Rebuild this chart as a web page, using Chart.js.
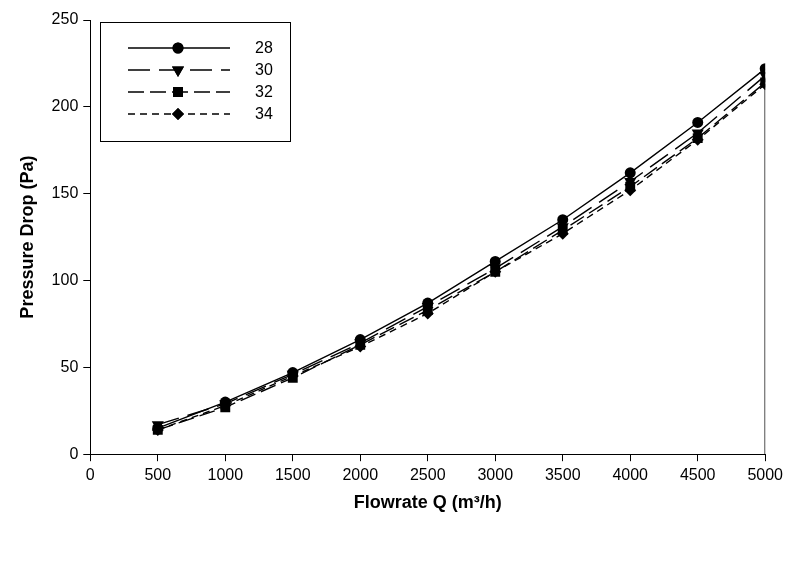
<!DOCTYPE html>
<html lang="en">
<head>
    <meta charset="UTF-8">
    <title>Pressure Drop vs Flowrate</title>
    <script src="https://cdn.jsdelivr.net/npm/chart.js"></script>
    <style>
        body {
            margin: 0;
            padding: 0;
            background-color: white;
        }
        #wrap {
            width: 788px;
            height: 563px;
        }
    </style>
</head>
<body>
    <div id="wrap">
        <canvas id="pdChart" width="788" height="563"></canvas>
    </div>

    <script>
        // data
        const flowrates = [500, 1000, 1500, 2000, 2500, 3000, 3500, 4000, 4500, 5000];
        const seriesNames = ['28', '30', '32', '34'];
        const pd28 = [15, 30, 47, 66, 87, 111, 135, 162, 191, 222];
        const pd30 = [17, 29, 46, 64, 85, 107, 131, 157, 185, 218];
        const pd32 = [14, 27, 44, 63, 83, 105, 129, 154, 182, 214];
        const pd34 = [14, 28, 45, 62, 81, 105, 127, 152, 181, 213];
        // drop line at the right end, from the lowest last point to the axis
        const dropX = [5000, 5000];
        const dropY = [213, 0];

        const xTicks = [0, 500, 1000, 1500, 2000, 2500, 3000, 3500, 4000, 4500, 5000];
        const yTicks = [0, 50, 100, 150, 200, 250];

        const FONT = 'Arial, "Liberation Sans", sans-serif';

        function toPoints(xs, ys) {
            return xs.map((x, i) => ({ x: x, y: ys[i] }));
        }

        const styles = [
            { dash: [], shape: 'circle', r: 5.5, rot: 0 },
            { dash: [22, 9], shape: 'triangle', r: 7, rot: 180 },
            { dash: [16, 6], shape: 'rect', r: 7, rot: 0 },
            { dash: [7, 5], shape: 'rectRot', r: 6, rot: 0 }
        ];
        const allSeries = [pd28, pd30, pd32, pd34];

        const datasets = allSeries.map((vals, i) => ({
            label: seriesNames[i],
            data: toPoints(flowrates, vals),
            borderColor: '#000',
            backgroundColor: '#000',
            borderWidth: 1.4,
            borderDash: styles[i].dash,
            pointStyle: styles[i].shape,
            pointRadius: styles[i].r,
            pointRotation: styles[i].rot,
            pointBorderWidth: 0,
            tension: 0
        }));
        datasets.push({
            label: 'drop',
            data: toPoints(dropX, dropY),
            borderColor: '#000',
            borderWidth: 1.4,
            pointRadius: 0
        });

        // legend box like the original: line + marker + label
        const boxLegend = {
            id: 'boxLegend',
            afterDatasetsDraw(chart) {
                const ctx = chart.ctx;
                ctx.save();
                ctx.strokeStyle = '#000';
                ctx.lineWidth = 1;
                ctx.strokeRect(100.5, 22.5, 190, 119);
                ctx.lineWidth = 1.4;
                for (let i = 0; i < seriesNames.length; i++) {
                    const y = 48 + i * 22;
                    ctx.beginPath();
                    ctx.setLineDash(styles[i].dash);
                    ctx.moveTo(128, y);
                    ctx.lineTo(230, y);
                    ctx.stroke();
                    ctx.setLineDash([]);
                    ctx.fillStyle = '#000';
                    Chart.helpers.drawPoint(ctx, {
                        pointStyle: styles[i].shape,
                        radius: styles[i].r,
                        rotation: styles[i].rot,
                        borderWidth: 0
                    }, 178, y);
                    ctx.fill();
                    ctx.font = '16px ' + FONT;
                    ctx.textBaseline = 'middle';
                    ctx.textAlign = 'left';
                    ctx.fillText(seriesNames[i], 255, y + 1);
                }
                ctx.restore();
            }
        };

        const ctx = document.getElementById('pdChart').getContext('2d');
        new Chart(ctx, {
            type: 'line',
            data: { datasets: datasets },
            options: {
                responsive: false,
                animation: false,
                layout: { padding: { left: 17, right: 20, top: 20, bottom: 49 } },
                plugins: {
                    legend: { display: false },
                    tooltip: { enabled: false }
                },
                scales: {
                    x: {
                        type: 'linear',
                        min: 0,
                        max: 5000,
                        afterBuildTicks(axis) {
                            axis.ticks = xTicks.map(v => ({ value: v }));
                        },
                        grid: {
                            drawOnChartArea: false,
                            drawTicks: true,
                            tickLength: 7,
                            color: '#000'
                        },
                        border: { color: '#000', width: 1 },
                        ticks: {
                            color: '#000',
                            font: { family: FONT, size: 16 },
                            padding: 5,
                            maxRotation: 0,
                            callback: v => String(v)
                        },
                        title: {
                            display: true,
                            text: 'Flowrate Q (m³/h)',
                            color: '#000',
                            font: { family: FONT, size: 18, weight: 'bold' },
                            padding: { top: 2, bottom: 0 }
                        }
                    },
                    y: {
                        type: 'linear',
                        min: 0,
                        max: 250,
                        afterBuildTicks(axis) {
                            axis.ticks = yTicks.map(v => ({ value: v }));
                        },
                        grid: {
                            drawOnChartArea: false,
                            drawTicks: true,
                            tickLength: 7,
                            color: '#000'
                        },
                        border: { color: '#000', width: 1 },
                        ticks: {
                            color: '#000',
                            font: { family: FONT, size: 16 },
                            padding: 5,
                            callback: v => String(v)
                        },
                        title: {
                            display: true,
                            text: 'Pressure Drop (Pa)',
                            color: '#000',
                            font: { family: FONT, size: 18, weight: 'bold' },
                            padding: { top: 0, bottom: 8 }
                        }
                    }
                }
            },
            plugins: [boxLegend]
        });
    </script>
</body>
</html>
